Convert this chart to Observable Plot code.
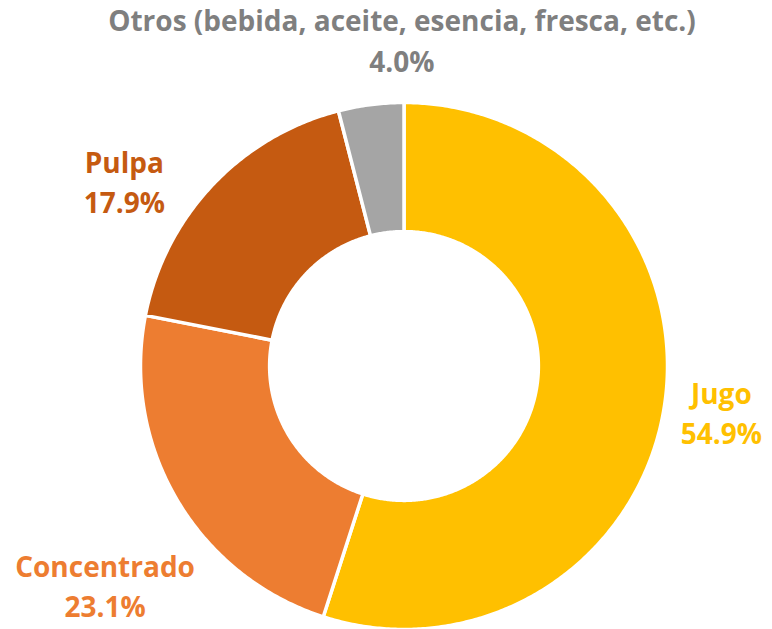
<!DOCTYPE html>
<html><head><meta charset="utf-8">
<script src="https://cdn.jsdelivr.net/npm/d3@7"></script>
<script src="https://cdn.jsdelivr.net/npm/@observablehq/plot@0.6"></script>
<style>body{margin:0;background:#fff}</style>
</head><body><div id="chart"></div>
<script>
const categories = ["Jugo", "Concentrado", "Pulpa", "Otros"];
const labelNames = ["Jugo", "Concentrado", "Pulpa", "Otros (bebida, aceite, esencia, fresca, etc.)"];
const values = [54.9, 23.1, 17.9, 4.0];
const sliceColors = ["#FFC000", "#ED7D31", "#C55A11", "#A5A5A5"];
const labelColors = ["#FFC000", "#ED7D31", "#C55A11", "#7F7F7F"];
// label layout offsets (pixels) from the slice's outer mid-point
const labelOffsets = [[57, 4], [-72, 84], [-88, -5], [31, -66]];

const innerRatio = 0.51;
const arcs = d3.pie().sort(null)(values);

function ring(a0, a1, r0, r1) {
  const n = Math.max(4, Math.ceil((a1 - a0) / (Math.PI / 360)));
  const pts = [];
  for (let i = 0; i <= n; i++) {
    const a = a0 + (a1 - a0) * i / n;
    pts.push([r1 * Math.sin(a), -r1 * Math.cos(a)]);
  }
  for (let i = n; i >= 0; i--) {
    const a = a0 + (a1 - a0) * i / n;
    pts.push([r0 * Math.sin(a), -r0 * Math.cos(a)]);
  }
  pts.push(pts[0]);
  return pts;
}

const slices = arcs.map((a, i) => ({
  type: "Feature",
  properties: {category: categories[i], value: values[i]},
  geometry: {type: "Polygon", coordinates: [ring(a.startAngle, a.endAngle, innerRatio, 1)]}
}));

const labels = arcs.map((a, i) => {
  const mid = (a.startAngle + a.endAngle) / 2;
  return {
    name: labelNames[i],
    pct: values[i].toFixed(1) + "%",
    x: Math.sin(mid),
    y: -Math.cos(mid),
    color: labelColors[i],
    off: labelOffsets[i]
  };
});

const font = {fontFamily: "Open Sans", fontWeight: "bold", fontSize: 28};

const textMarks = labels.map(l => Plot.text([l], {
  x: "x", y: "y", text: d => d.name + "\n" + d.pct,
  fill: l.color, dx: l.off[0], dy: l.off[1], lineHeight: 1.44, ...font
}));

const chart = Plot.plot({
  width: 772,
  height: 629,
  marginLeft: 140,
  marginRight: 105,
  marginTop: 102,
  marginBottom: 0,
  projection: {type: "identity", domain: {type: "MultiPoint", coordinates: [[-1, -1], [1, 1]]}},
  color: {domain: categories, range: sliceColors},
  style: {background: "#fff", overflow: "visible"},
  marks: [
    Plot.geo(slices, {fill: d => d.properties.category, stroke: "white", strokeWidth: 3.5}),
    ...textMarks
  ]
});
document.getElementById("chart").appendChild(chart);
</script>
</body></html>
